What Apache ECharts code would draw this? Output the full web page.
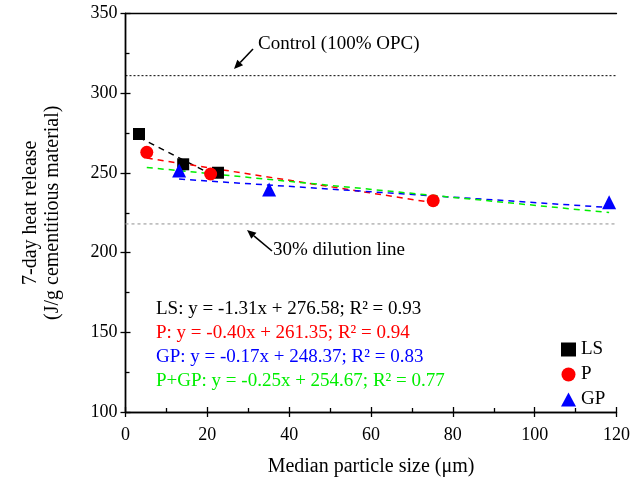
<!DOCTYPE html>
<html>
<head>
<meta charset="utf-8">
<script src="https://cdn.jsdelivr.net/npm/echarts@6/dist/echarts.min.js"></script>
<style>html,body{margin:0;padding:0;background:#fff;}#c{width:633px;height:479px;}</style>
</head>
<body>
<div id="c"></div>
<script>
// ---- data ----
const lsPoints = [[3.3, 274.4], [14.1, 255.4], [22.6, 250.1]];
const pPoints = [[5.2, 262.9], [20.8, 249.3], [75.2, 232.6]];
const gpPoints = [[13.1, 251.5], [35.1, 239.6], [118.2, 231.6]];
const lsFit = [[3.3, 272.3], [22.6, 247.0]];
const pFit = [[5.2, 259.3], [75.2, 231.3]];
const gpFit = [[13.1, 246.1], [118.2, 228.3]];
const pgpFit = [[5.2, 253.4], [118.2, 225.1]];
const controlLine = [[0, 311], [120, 311]];
const dilutionLine = [[0, 218], [120, 218]];
const equations = [
  'LS: y = -1.31x + 276.58; R² = 0.93',
  'P: y = -0.40x + 261.35; R² = 0.94',
  'GP: y = -0.17x + 248.37; R² = 0.83',
  'P+GP: y = -0.25x + 254.67; R² = 0.77'
];
const equationColors = ['#000000', '#ff0000', '#0000ff', '#00ee00'];
const xTicks = [0, 20, 40, 60, 80, 100, 120];
const yTicks = [100, 150, 200, 250, 300, 350];

const FONT = '"Liberation Serif", "Times New Roman", serif';
const chart = echarts.init(document.getElementById('c'), null, {renderer: 'canvas'});

function arrow(x1, y1, x2, y2) {
  const ang = Math.atan2(y2 - y1, x2 - x1);
  const L = 9, W = 4;
  const bx = x2 - L * Math.cos(ang), by = y2 - L * Math.sin(ang);
  const px = -Math.sin(ang) * W, py = Math.cos(ang) * W;
  return [
    {type: 'line', shape: {x1: x1, y1: y1, x2: bx, y2: by}, style: {stroke: '#000', lineWidth: 1.6}},
    {type: 'polygon', shape: {points: [[x2, y2], [bx + px, by + py], [bx - px, by - py]]}, style: {fill: '#000'}}
  ];
}

const graphics = [];
equations.forEach((t, i) => {
  graphics.push({type: 'text', left: 156, top: 300 + i * 24,
    style: {text: t, fill: equationColors[i], font: '19px ' + FONT}});
});
graphics.push({type: 'text', left: 258, top: 35, style: {text: 'Control (100% OPC)', fill: '#000', font: '19px ' + FONT}});
graphics.push({type: 'text', left: 273, top: 241, style: {text: '30% dilution line', fill: '#000', font: '19px ' + FONT}});
graphics.push(...arrow(253, 49, 234, 69));
graphics.push(...arrow(272, 251, 247, 230));

const axisLine = {show: true, lineStyle: {color: '#000', width: 1.3}};
const labelStyle = {color: '#000', fontFamily: FONT, fontSize: 18};
const nameStyle = {color: '#000', fontFamily: FONT, fontSize: 20};

const option = {
  animation: false,
  backgroundColor: '#fff',
  grid: {left: 125.5, right: 16.5, top: 13.5, bottom: 67, containLabel: false, outerBoundsMode: 'none'},
  legend: {
    orient: 'vertical', left: 556, top: 335, itemGap: 6,
    itemWidth: 15, itemHeight: 14,
    textStyle: {color: '#000', fontFamily: FONT, fontSize: 19},
    data: ['LS', 'P', 'GP']
  },
  xAxis: [
    {type: 'value', min: xTicks[0], max: xTicks[xTicks.length - 1], interval: 20, position: 'bottom',
     name: 'Median particle size (μm)', nameLocation: 'middle', nameGap: 45,
     nameTextStyle: nameStyle,
     axisLine: axisLine, axisTick: {show: true, inside: false, length: 5, lineStyle: {color: '#000', width: 1.3}},
     axisLabel: Object.assign({margin: 14}, labelStyle), splitLine: {show: false}},
    {type: 'value', min: xTicks[0], max: xTicks[xTicks.length - 1], interval: 20, position: 'bottom',
     axisLine: axisLine, axisTick: {show: true, inside: true, length: 5, lineStyle: {color: '#000', width: 1.3}},
     minorTick: {show: true, splitNumber: 2, length: 4, lineStyle: {color: '#000', width: 1.3}},
     axisLabel: {show: false}, splitLine: {show: false}},
    {type: 'value', min: 0, max: 120, position: 'top', axisLine: axisLine, axisTick: {show: false}, axisLabel: {show: false}, splitLine: {show: false}}
  ],
  yAxis: [
    {type: 'value', min: yTicks[0], max: yTicks[yTicks.length - 1], interval: 50, position: 'left',
     name: '7-day heat release\n(J/g cementitious material)', nameLocation: 'middle', nameGap: 62,
     nameTextStyle: Object.assign({lineHeight: 22}, nameStyle),
     axisLine: axisLine, axisTick: {show: true, inside: false, length: 5, lineStyle: {color: '#000', width: 1.3}},
     axisLabel: Object.assign({margin: 8}, labelStyle), splitLine: {show: false}},
    {type: 'value', min: 100, max: 350, interval: 50, position: 'left',
     axisLine: axisLine, axisTick: {show: true, inside: true, length: 5, lineStyle: {color: '#000', width: 1.3}},
     minorTick: {show: true, splitNumber: 2, length: 4, lineStyle: {color: '#000', width: 1.3}},
     axisLabel: {show: false}, splitLine: {show: false}},
    {type: 'value', min: 100, max: 350, position: 'right', axisLine: axisLine, axisTick: {show: false}, axisLabel: {show: false}, splitLine: {show: false}}
  ],
  series: [
    {name: 'control', type: 'line', data: controlLine, symbol: 'none', lineStyle: {color: '#000', width: 1, type: [2, 2]}, z: 1},
    {name: 'dilution', type: 'line', data: dilutionLine, symbol: 'none', lineStyle: {color: '#aaa', width: 1.3, type: [3, 3]}, z: 1},
    {name: 'LS fit', type: 'line', data: lsFit, symbol: 'none', lineStyle: {color: '#000', width: 1.5, type: [6, 5]}, z: 2},
    {name: 'P fit', type: 'line', data: pFit, symbol: 'none', lineStyle: {color: '#ff0000', width: 1.5, type: [6, 5]}, z: 2},
    {name: 'GP fit', type: 'line', data: gpFit, symbol: 'none', lineStyle: {color: '#0000ff', width: 1.5, type: [6, 5]}, z: 2},
    {name: 'P+GP fit', type: 'line', data: pgpFit, symbol: 'none', lineStyle: {color: '#00ee00', width: 1.5, type: [6, 5]}, z: 2},
    {name: 'LS', type: 'scatter', data: lsPoints, symbol: 'rect', symbolSize: 12, itemStyle: {color: '#000', opacity: 1}, z: 3},
    {name: 'P', type: 'scatter', data: pPoints, symbol: 'circle', symbolSize: 13, itemStyle: {color: '#ff0000', opacity: 1}, z: 3},
    {name: 'GP', type: 'scatter', data: gpPoints, symbol: 'triangle', symbolSize: 14, itemStyle: {color: '#0000ff', opacity: 1}, z: 3}
  ],
  graphic: graphics
};
chart.setOption(option);
</script>
</body>
</html>
